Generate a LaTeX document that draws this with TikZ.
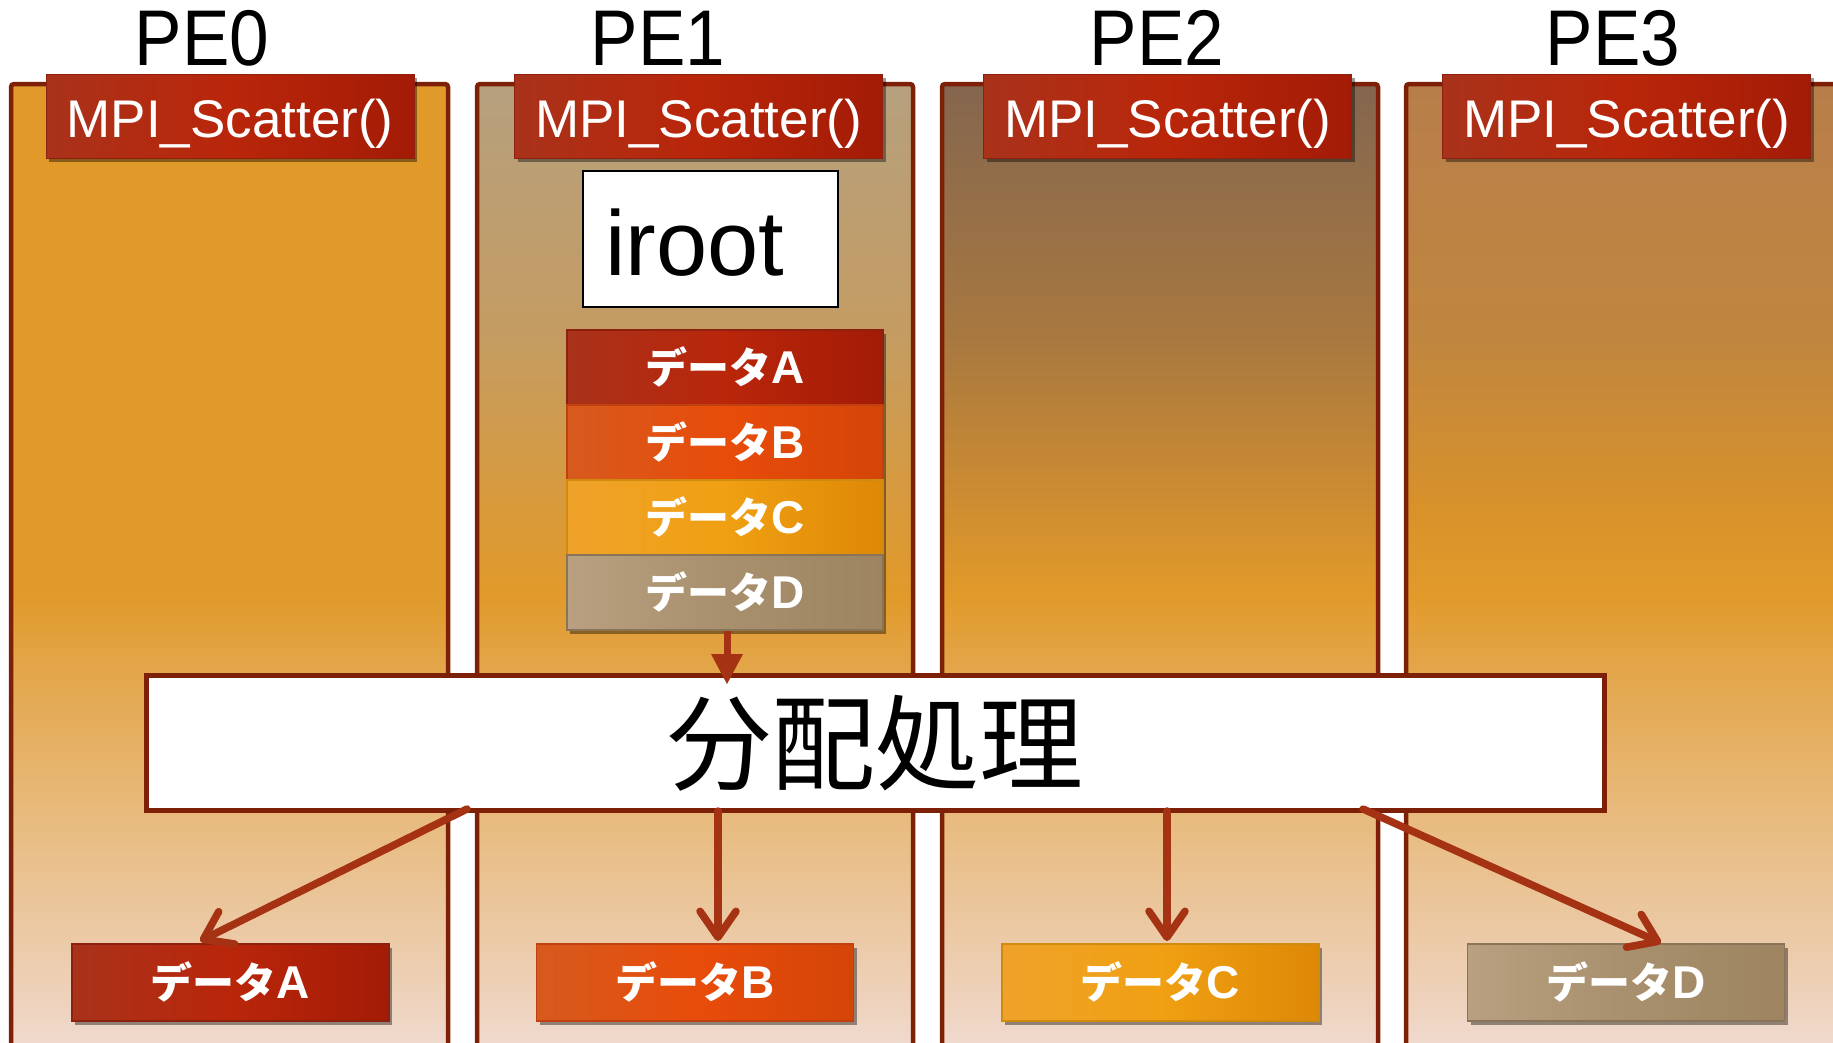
\documentclass[tikz,border=0pt]{standalone}
\usepackage{fontspec}
\setmainfont{Liberation Sans}
\newfontfamily\jp{Noto Sans CJK JP}
\usetikzlibrary{arrows.meta,shadows}

\definecolor{colborder}{HTML}{7E2008}
\definecolor{arrowc}{HTML}{A53212}
\definecolor{cbot}{HTML}{F1DED6}
\definecolor{cone}{HTML}{EED3BF}
\definecolor{ctwo}{HTML}{E8BB7E}
\definecolor{cthree}{HTML}{E3A64A}
\definecolor{corange}{HTML}{E19A2A}
\definecolor{peAtop}{HTML}{B6A07E}
\definecolor{peAa}{HTML}{C49C62}
\definecolor{peAb}{HTML}{D99A3A}
\definecolor{peBtop}{HTML}{84664F}
\definecolor{peBa}{HTML}{A87840}
\definecolor{peBb}{HTML}{D08E30}
\definecolor{peCtop}{HTML}{B87E4A}
\definecolor{peCa}{HTML}{C0863F}
\definecolor{peCb}{HTML}{D8922A}
\definecolor{mpiL}{HTML}{A9321A}
\definecolor{mpiM}{HTML}{B9260A}
\definecolor{mpiR}{HTML}{A31B06}
\definecolor{mpiE}{HTML}{8E2010}
\definecolor{bL}{HTML}{D65A1E}
\definecolor{bM}{HTML}{E84C0A}
\definecolor{bR}{HTML}{D44508}
\definecolor{bE}{HTML}{C04010}
\definecolor{cL}{HTML}{EFA22A}
\definecolor{cM}{HTML}{F0A012}
\definecolor{cR}{HTML}{DE8806}
\definecolor{cE}{HTML}{D08A10}
\definecolor{dL}{HTML}{B8A080}
\definecolor{dM}{HTML}{A8906E}
\definecolor{dR}{HTML}{9E8460}
\definecolor{dE}{HTML}{8A7458}

\pgfdeclareverticalshading{pezero}{100bp}{color(0bp)=(cbot); color(25bp)=(cbot); color(27.6bp)=(cone); color(37.4bp)=(ctwo); color(45bp)=(cthree); color(48.8bp)=(corange); color(100bp)=(corange)}
\pgfdeclareverticalshading{peone}{100bp}{color(0bp)=(cbot); color(25bp)=(cbot); color(27.6bp)=(cone); color(37.4bp)=(ctwo); color(45bp)=(cthree); color(48.8bp)=(corange); color(53.1bp)=(peAb); color(62.1bp)=(peAa); color(75bp)=(peAtop); color(100bp)=(peAtop)}
\pgfdeclareverticalshading{petwo}{100bp}{color(0bp)=(cbot); color(25bp)=(cbot); color(27.6bp)=(cone); color(37.4bp)=(ctwo); color(45bp)=(cthree); color(48.8bp)=(corange); color(53.1bp)=(peBb); color(62.1bp)=(peBa); color(75bp)=(peBtop); color(100bp)=(peBtop)}
\pgfdeclareverticalshading{pethree}{100bp}{color(0bp)=(cbot); color(25bp)=(cbot); color(27.6bp)=(cone); color(37.4bp)=(ctwo); color(45bp)=(cthree); color(48.8bp)=(corange); color(53.1bp)=(peCb); color(62.1bp)=(peCa); color(75bp)=(peCtop); color(100bp)=(peCtop)}

\newcommand{\dlbl}[1]{{\jp\bfseries データ}{\bfseries\fontsize{46}{50}\selectfont #1}}

\tikzset{
  column/.style={shade, draw=colborder, line width=4.5pt, rounded corners=3pt},
  boxshadow/.style={drop shadow={shadow xshift=3pt, shadow yshift=-4pt, opacity=0.4, fill=black}},
  mpibox/.style={draw=mpiE, line width=1pt, left color=mpiL, right color=mpiR, middle color=mpiM,
    minimum width=368pt, minimum height=84pt, inner sep=0pt, text=white,
    font=\fontsize{53}{60}\selectfont, text height=42pt, text depth=0pt, boxshadow},
  pelbl/.style={anchor=base, inner sep=0pt, font=\fontsize{79}{90}\selectfont},
  databox/.style={line width=1.2pt, minimum width=316pt, minimum height=75pt, inner sep=0pt,
    text=white, font=\fontsize{42}{48}\selectfont, text height=32pt, text depth=0pt, boxshadow},
  dataA/.style={databox, draw=mpiE, left color=mpiL, right color=mpiR, middle color=mpiM},
  dataB/.style={databox, draw=bE, left color=bL, right color=bR, middle color=bM},
  dataC/.style={databox, draw=cE, left color=cL, right color=cR, middle color=cM},
  dataD/.style={databox, draw=dE, left color=dL, right color=dR, middle color=dM},
  arr/.style={draw=arrowc, line width=7.5pt, line cap=round, -{Straight Barb[length=26pt,width=36pt,round]}},
  toparr/.style={draw=arrowc, line width=7pt, -{Triangle[length=30pt,width=32pt,line width=0pt]}}
}

\begin{document}
\begin{tikzpicture}[x=1pt,y=-1pt]
\useasboundingbox[fill=white] (0,0) rectangle (1833,1042);

% columns
\path[column, shading=pezero]  (11,84) rectangle (448,1060);
\path[column, shading=peone]   (477,84) rectangle (913,1060);
\path[column, shading=petwo]   (942,84) rectangle (1378,1060);
\path[column, shading=pethree] (1406,84) rectangle (1850,1060);

% PE labels
\node[pelbl] (pe0) at (202,65) {\scalebox{0.9}[1]{PE0}};
\node[pelbl] (pe1) at (658,65) {\scalebox{0.9}[1]{PE1}};
\node[pelbl] (pe2) at (1157,65) {\scalebox{0.9}[1]{PE2}};
\node[pelbl] (pe3) at (1613,65) {\scalebox{0.9}[1]{PE3}};

% MPI boxes
\node[mpibox] (mpi0) at (230,116) {MPI\_Scatter()};
\node[mpibox] (mpi1) at (698.5,116) {MPI\_Scatter()};
\node[mpibox] (mpi2) at (1167.5,116) {MPI\_Scatter()};
\node[mpibox] (mpi3) at (1626.5,116) {MPI\_Scatter()};

% iroot
\node[draw=black, line width=1.2pt, fill=white, minimum width=255pt, minimum height=136pt,
      inner xsep=22pt, inner ysep=0pt, text width=211pt, align=left,
      font=\fontsize{92}{100}\selectfont, text height=72pt, text depth=0pt] (iroot) at (710.5,239) {iroot};

% data stack
\node[dataA] (sA) at (725,367.5) {\dlbl{A}};
\node[dataB] (sB) at (725,442.5) {\dlbl{B}};
\node[dataC] (sC) at (725,517.5) {\dlbl{C}};
\node[dataD] (sD) at (725,592.5) {\dlbl{D}};

% distribution box
\node[draw=colborder, line width=5pt, fill=white, minimum width=1458pt, minimum height=135pt,
      inner sep=0pt, font=\jp\fontsize{104}{110}\selectfont, text height=79pt, text depth=0pt] (dist) at (875,743) {分配処理};

% bottom data boxes
\node[dataA, minimum width=317pt, minimum height=77pt] (bA) at (230.5,982.5) {\dlbl{A}};
\node[dataB, minimum width=317pt, minimum height=77pt] (bB) at (695,982.5) {\dlbl{B}};
\node[dataC, minimum width=317pt, minimum height=77pt] (bC) at (1160.5,982.5) {\dlbl{C}};
\node[dataD, minimum width=317pt, minimum height=77pt] (bD) at (1626,982.5) {\dlbl{D}};

% arrows
\coordinate (topTip) at (727,684);
\draw[toparr] (sD.south -| topTip) -- (topTip);

\coordinate (fA) at (467,809);
\coordinate (tA) at (200,941);
\coordinate (fB) at (718,811);
\coordinate (tB) at (718,941);
\coordinate (fC) at (1167,811);
\coordinate (tC) at (1167,941);
\coordinate (fD) at (1363,809);
\coordinate (tD) at (1661,943);
\draw[arr] (fA) -- (tA);
\draw[arr] (fB) -- (tB);
\draw[arr] (fC) -- (tC);
\draw[arr] (fD) -- (tD);
\end{tikzpicture}
\end{document}
